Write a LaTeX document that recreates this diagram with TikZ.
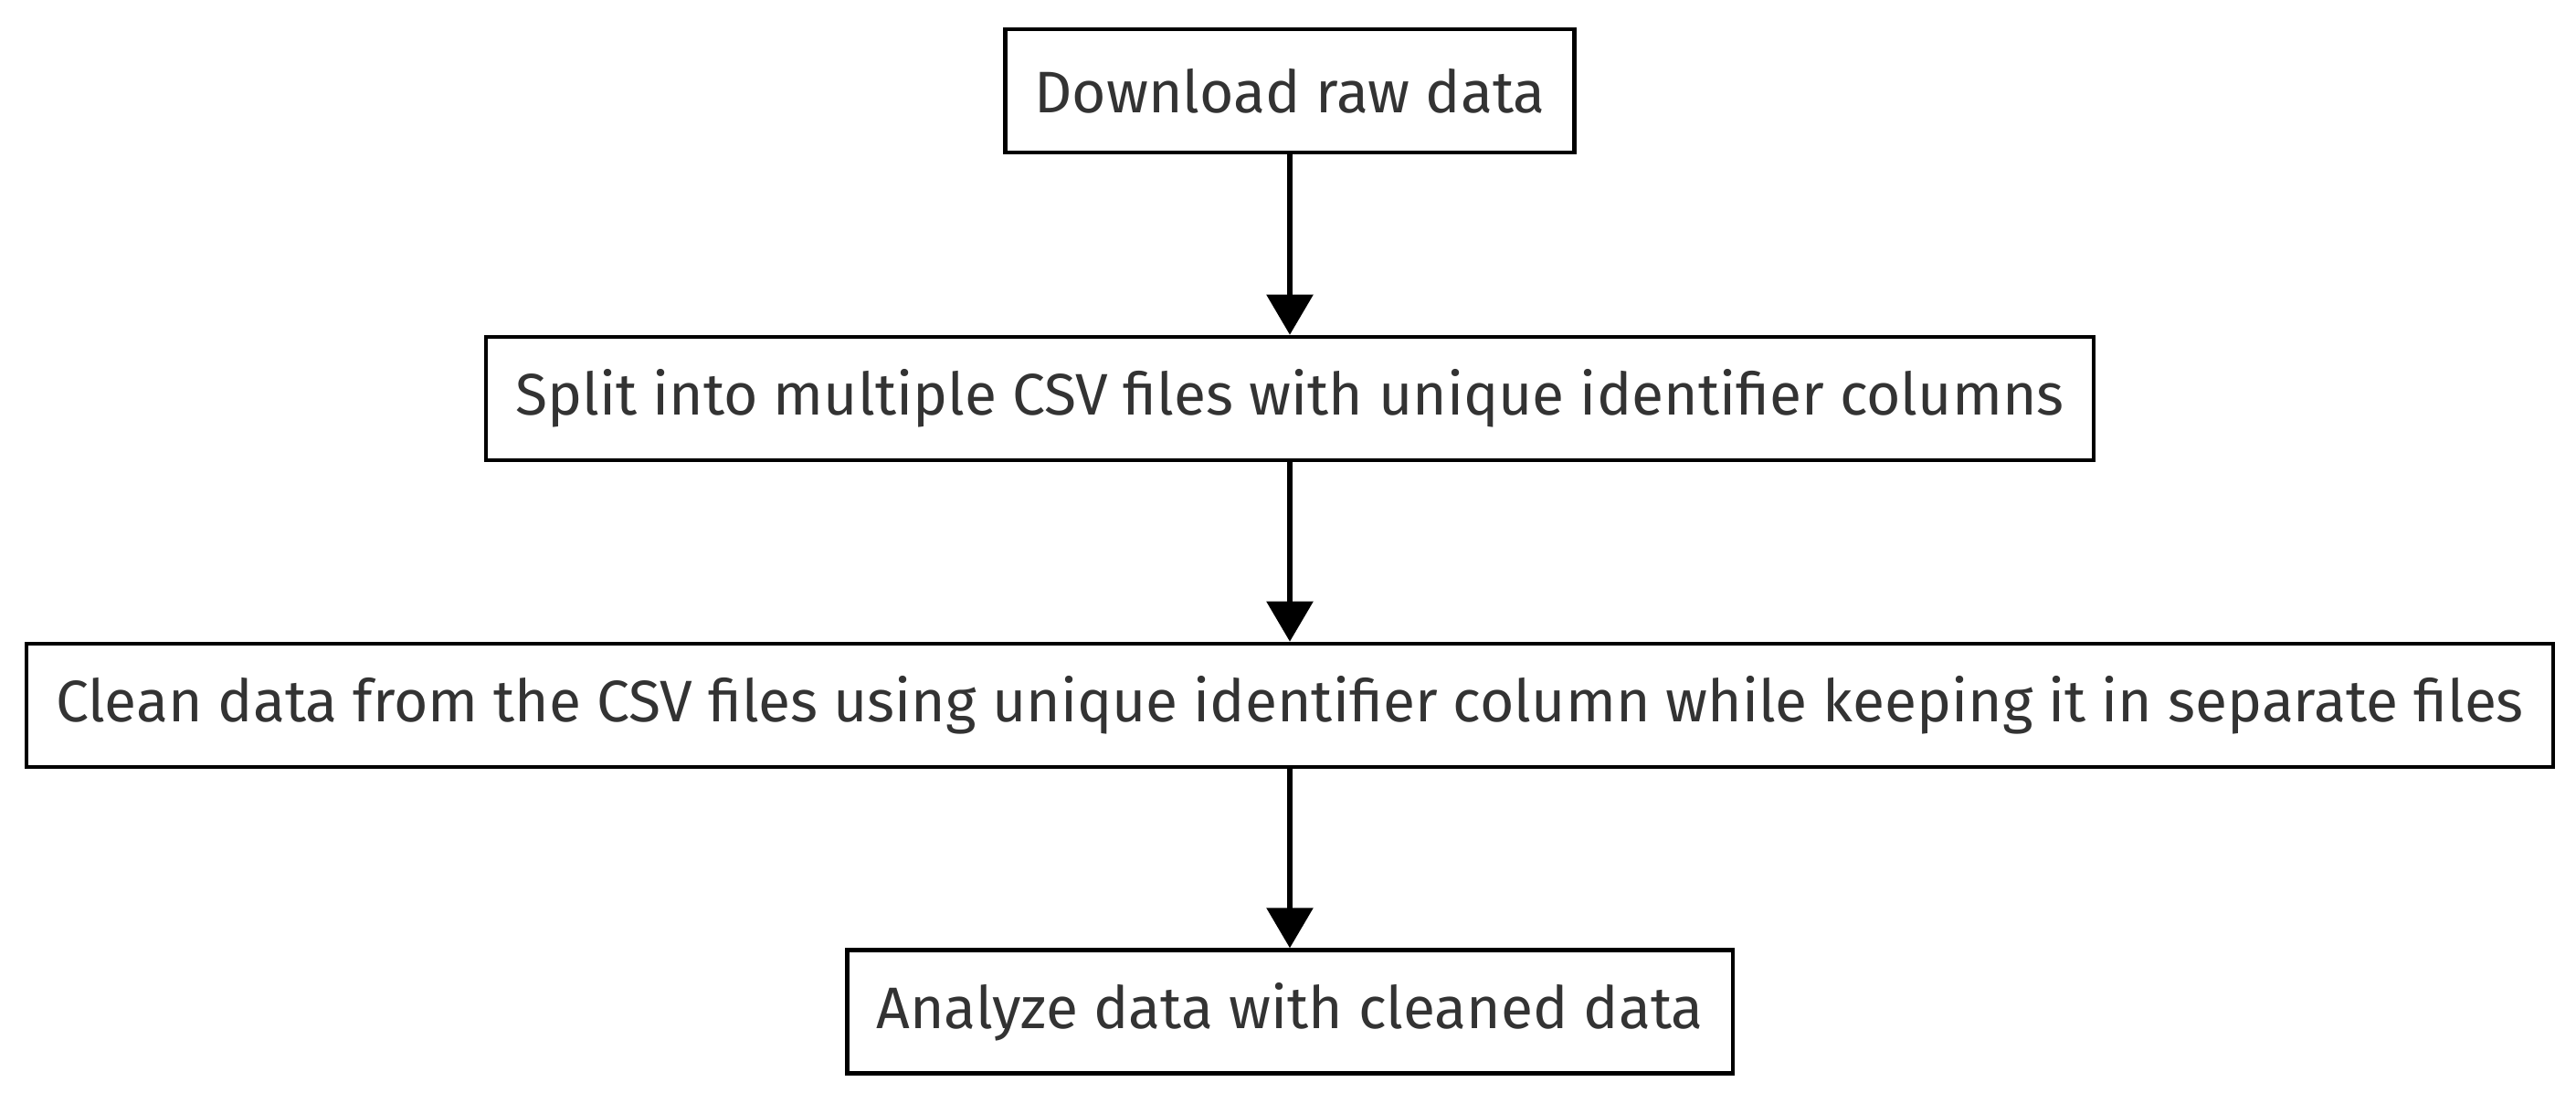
\documentclass[tikz,border=0pt]{standalone}
\usepackage{fontspec}
\setmainfont{Fira Sans}
\usetikzlibrary{arrows.meta}
\definecolor{txtgray}{HTML}{333333}

\begin{document}
\begin{tikzpicture}[every node/.style={rectangle, draw=black, line width=1.1pt, text=txtgray, font=\fontsize{16.05}{18}\selectfont, minimum height=33.75pt, inner xsep=8pt}, every path/.style={draw=black, line width=1.5pt}]
			\useasboundingbox[draw=none] (0,0) rectangle (705pt,-302pt);
			\node (dl) at (353pt,-24.9pt){Download raw data};
			\node (split) at (353pt,-109.1pt){Split into multiple CSV files with unique identifier columns};
			\node (clean) at (353pt,-193.1pt){Clean data from the CSV files using unique identifier column while keeping it in separate files};
			\node (ana) at (353pt,-277pt){Analyze data with cleaned data};
			
			\path[-{Triangle[width=12.5pt,length=11pt]}] (dl) edge (split);
			\path[-{Triangle[width=12.5pt,length=11pt]}] (split) edge (clean);
			\path[-{Triangle[width=12.5pt,length=11pt]}] (clean) edge (ana);
			\end{tikzpicture}
\end{document}
